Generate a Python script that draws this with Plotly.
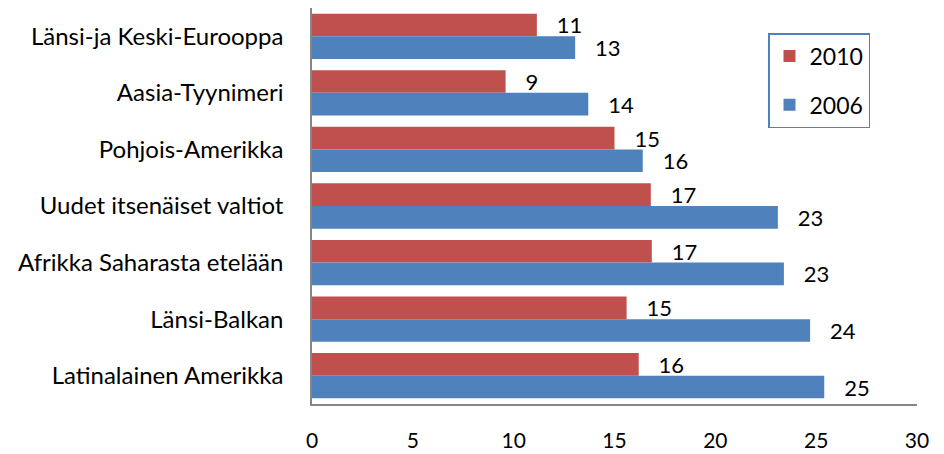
import plotly.graph_objects as go

categories = [
    "Länsi-ja Keski-Eurooppa",
    "Aasia-Tyynimeri",
    "Pohjois-Amerikka",
    "Uudet itsenäiset valtiot",
    "Afrikka Saharasta etelään",
    "Länsi-Balkan",
    "Latinalainen Amerikka",
]
values_2010 = [11.15, 9.6, 15.0, 16.8, 16.85, 15.6, 16.2]
values_2006 = [13.05, 13.7, 16.4, 23.1, 23.4, 24.7, 25.4]
labels_2010 = ["11", "9", "15", "17", "17", "15", "16"]
labels_2006 = ["13", "14", "16", "23", "23", "24", "25"]
x_ticks = [0, 5, 10, 15, 20, 25, 30]

FONT = "Lato"
RED = "#C0504D"
BLUE = "#4F81BD"

# page body has an 8px margin, so the figure is offset by (8, 8)
OFF = 8
W, H = 944 - OFF, 454 - OFF
L, R, T, B = 312 - OFF, 27, 8 - OFF, 50
PW, PH = W - L - R, H - T - B

fig = go.Figure()
fig.add_trace(go.Bar(
    y=categories, x=values_2010, name="2010", orientation="h",
    marker=dict(color=RED, line=dict(width=0)), legendgroup="a",
    text=["   " + t for t in labels_2010], textposition="outside",
    constraintext="none", cliponaxis=False,
    textfont=dict(family=FONT, size=22, color="black"),
))
fig.add_trace(go.Bar(
    y=categories, x=values_2006, name="2006", orientation="h",
    marker=dict(color=BLUE, line=dict(width=0)), legendgroup="b",
    text=["   " + t for t in labels_2006], textposition="outside",
    constraintext="none", cliponaxis=False,
    textfont=dict(family=FONT, size=22, color="black"),
))

fig.update_layout(
    width=W, height=H,
    margin=dict(l=L, r=R, t=T, b=B, pad=0, autoexpand=False),
    paper_bgcolor="white", plot_bgcolor="white",
    barmode="group", bargap=0.2, bargroupgap=0,
    font=dict(family=FONT, size=22, color="black"),
    showlegend=True,
    legend=dict(
        x=(768 - 312) / PW, y=1 - (33 - 8) / PH,
        xanchor="left", yanchor="top",
        traceorder="grouped", tracegroupgap=16,
        bordercolor=BLUE, borderwidth=1.5, bgcolor="white",
        font=dict(family=FONT, size=23, color="black"),
    ),
)
fig.update_xaxes(
    range=[0, 30], tickvals=x_ticks, showgrid=False, zeroline=False,
    showline=True, linecolor="#868686", linewidth=1.5,
    ticks="", ticklabelstandoff=17, automargin=False,
    tickfont=dict(family=FONT, size=21, color="black"),
)
fig.update_yaxes(
    autorange="reversed", showgrid=False, showline=True,
    linecolor="#868686", linewidth=1.5, ticks="",
    ticklabelstandoff=22, automargin=False,
    tickfont=dict(family=FONT, size=24, color="black"),
)

fig.write_html("out.html")
